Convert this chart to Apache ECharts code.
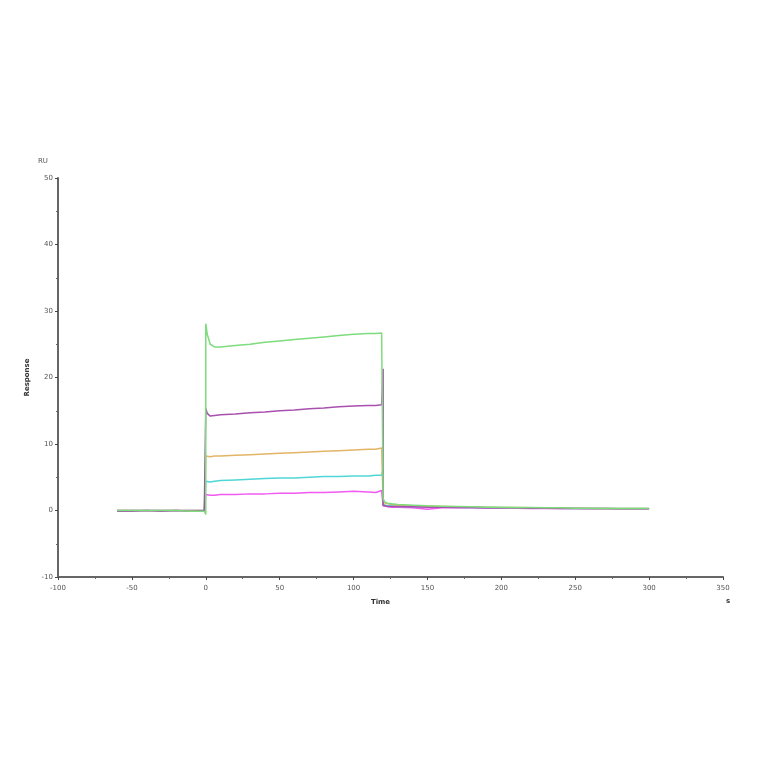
<!DOCTYPE html>
<html>
<head>
<meta charset="utf-8">
<script src="https://cdn.jsdelivr.net/npm/echarts@6/dist/echarts.min.js"></script>
<style>html,body{margin:0;padding:0;background:#fff;}#c{width:764px;height:764px;}</style>
</head>
<body>
<div id="c"></div>
<script>
var time = [-60,-50,-40,-30,-20,-10,-1,0,0,1,3,6,10,20,30,40,50,60,70,80,90,100,110,115,119,120,120,121,123,126,130,140,150,160,170,180,190,200,210,220,230,240,250,260,270,280,290,300];
var green = [0,0,0,0,0,-0.1,-0.1,-0.6,28.1,26.5,25.0,24.6,24.6,24.8,25.0,25.3,25.5,25.7,25.9,26.1,26.3,26.5,26.6,26.6,26.7,26.7,1.8,1.3,1.1,1.0,0.9,0.8,0.7,0.65,0.6,0.55,0.5,0.5,0.45,0.45,0.4,0.4,0.35,0.35,0.3,0.3,0.3,0.3];
var purple = [-0.1,-0.1,0,-0.1,0,-0.1,0,0,15.4,14.6,14.2,14.3,14.4,14.5,14.7,14.8,15.0,15.1,15.3,15.4,15.6,15.7,15.8,15.8,15.9,21.3,0.8,0.7,0.6,0.6,0.6,0.55,0.5,0.5,0.45,0.45,0.4,0.4,0.4,0.35,0.35,0.3,0.3,0.3,0.3,0.25,0.25,0.25];
var orange = [0,0,0,0,0,0,0,0,8.2,8.1,8.1,8.2,8.2,8.3,8.4,8.5,8.6,8.7,8.8,8.9,9.0,9.1,9.2,9.2,9.4,9.4,1.2,1.1,1.0,0.9,0.8,0.7,0.65,0.6,0.55,0.5,0.5,0.45,0.45,0.4,0.4,0.35,0.35,0.3,0.3,0.3,0.3,0.3];
var cyan = [0,0,0,0,0,0,0,0,4.4,4.3,4.3,4.4,4.5,4.6,4.7,4.8,4.9,4.9,5.0,5.1,5.1,5.2,5.2,5.3,5.3,6.3,0.9,0.8,0.7,0.7,0.6,0.6,0.55,0.5,0.5,0.45,0.45,0.4,0.4,0.4,0.35,0.35,0.3,0.3,0.3,0.3,0.3,0.3];
var magenta = [0,0,0,0,0,0,0,0,2.4,2.3,2.3,2.3,2.4,2.4,2.5,2.5,2.6,2.6,2.7,2.7,2.8,2.9,2.8,2.7,3.0,3.0,0.7,0.6,0.6,0.5,0.5,0.4,0.2,0.4,0.4,0.4,0.35,0.35,0.35,0.3,0.35,0.3,0.3,0.25,0.25,0.25,0.25,0.25];

var seriesDefs = [
  {name:'magenta', data: magenta, color:'#f25af2'},
  {name:'cyan', data: cyan, color:'#4fd6d6'},
  {name:'orange', data: orange, color:'#e3b567'},
  {name:'purple', data: purple, color:'#a850ae'},
  {name:'green', data: green, color:'#7ddc7d'}
];

var chart = echarts.init(document.getElementById('c'));
function axisCommon(m){
  return {
    axisLine:{show:true,onZero:false,lineStyle:{color:'#666',width:2}},
    axisTick:{show:true,length:3,lineStyle:{color:'#444'}},
    minorTick:{show:true,splitNumber:2,length:2,lineStyle:{color:'#666'}},
    axisLabel:{fontSize:7,color:'#555',fontFamily:'DejaVu Sans',margin:m},
    splitLine:{show:false}
  };
}
chart.setOption({
  animation:false,
  backgroundColor:'#fff',
  grid:{left:58,right:41,top:178,bottom:187},
  xAxis: Object.assign({type:'value',min:-100,max:350,interval:50,
    name:'Time',nameLocation:'middle',nameGap:22,
    nameTextStyle:{fontSize:7,fontWeight:'bold',color:'#333',fontFamily:'DejaVu Sans',padding:[0,20,0,0]}}, axisCommon(8)),
  yAxis: Object.assign({type:'value',min:-10,max:50,interval:10,
    name:'Response',nameLocation:'middle',nameGap:20,
    nameTextStyle:{fontSize:7,fontWeight:'bold',color:'#333',fontFamily:'DejaVu Sans'}}, axisCommon(5)),
  graphic:[
    {type:'text',left:38,top:158,style:{text:'RU',fontSize:7,fill:'#555',fontFamily:'DejaVu Sans'}},
    {type:'text',left:726,top:598,style:{text:'s',fontSize:7,fontWeight:'bold',fill:'#333',fontFamily:'DejaVu Sans'}}
  ],
  series: seriesDefs.map(function(s){
    return {type:'line',name:s.name,showSymbol:false,symbol:'none',
      data: time.map(function(t,i){return [t,s.data[i]];}),
      lineStyle:{color:s.color,width:1.5},itemStyle:{color:s.color}};
  })
});
</script>
</body>
</html>
